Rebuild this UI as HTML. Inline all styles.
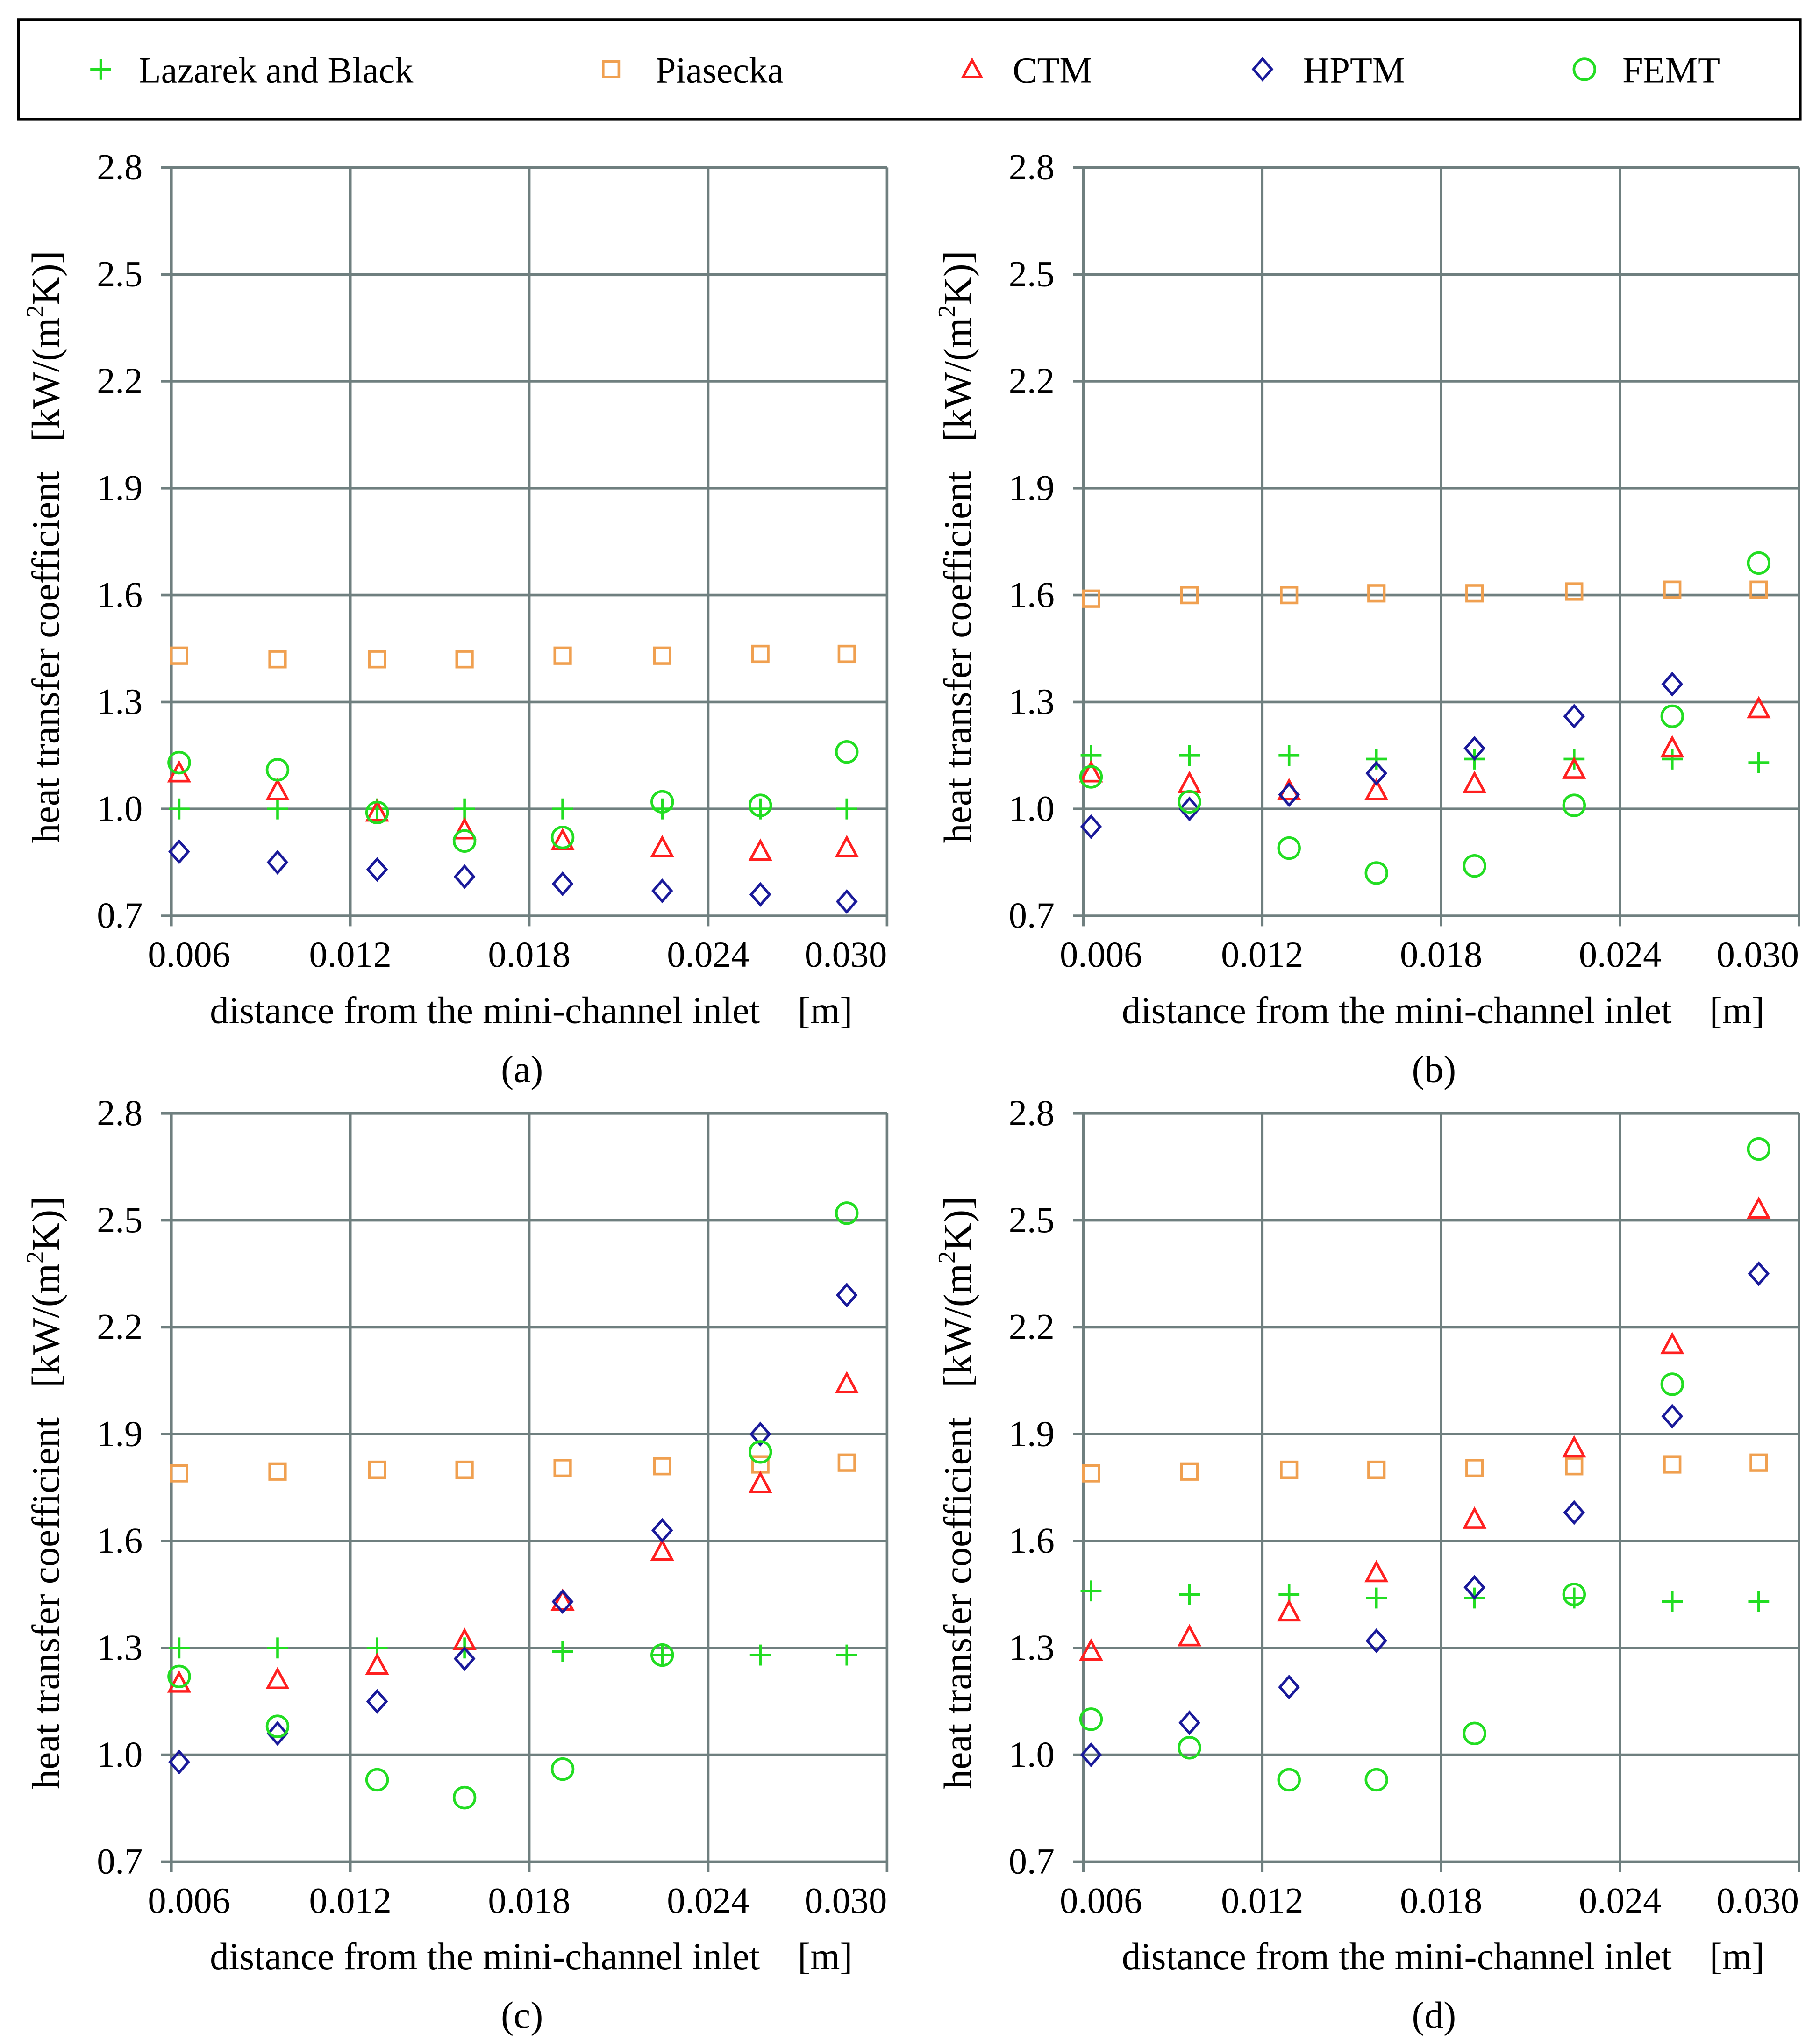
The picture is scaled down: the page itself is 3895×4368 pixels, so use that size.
<!DOCTYPE html>
<html><head><meta charset="utf-8"><style>
html,body{margin:0;padding:0;background:#fff;}
svg{display:block;}
text{font-family:"Liberation Serif",serif;fill:#000;}
.pre{white-space:pre;}
</style></head><body>
<svg id="chart" width="3895" height="4368" viewBox="0 0 1391.07 1560" xmlns="http://www.w3.org/2000/svg">
<rect width="1391.07" height="1560" fill="#fff"/>
<g>
<rect x="14" y="15" width="1362" height="76" fill="none" stroke="#000" stroke-width="2"/>
<g><path d="M69 53h16M77 45v16" stroke="#22dd22" stroke-width="2"/><text x="106" y="63" font-size="28">Lazarek and Black</text></g>
<g><rect x="461" y="47" width="12" height="12" fill="none" stroke="#f0a050" stroke-width="2"/><text x="501" y="63" font-size="28">Piasecka</text></g>
<g><path d="M743 46l7 13h-14z" fill="none" stroke="#ff2020" stroke-width="2"/><text x="774" y="63" font-size="28">CTM</text></g>
<g><path d="M965 45l7 8-7 8-7-8z" fill="none" stroke="#1a1a9a" stroke-width="2"/><text x="996" y="63" font-size="28">HPTM</text></g>
<g><circle cx="1211" cy="53" r="8" fill="none" stroke="#22dd22" stroke-width="2"/><text x="1240" y="63" font-size="28">FEMT</text></g>
</g>
<g id="panels"></g>
</svg>
<script>
const xPositions = [0.00626,0.00956,0.0129,0.01583,0.01912,0.02246,0.02575,0.02865];
const yTicks = [0.7,1.0,1.3,1.6,1.9,2.2,2.5,2.8];
const yTickLabels = ["0.7","1.0","1.3","1.6","1.9","2.2","2.5","2.8"];
const xTicks = [0.006,0.012,0.018,0.024,0.030];
const xTickLabels = ["0.006","0.012","0.018","0.024","0.030"];
const panelLabels = ["(a)","(b)","(c)","(d)"];
const lazarekA = [1.0,1.0,1.0,1.0,1.0,1.0,1.0,1.0];
const piaseckaA = [1.43,1.42,1.42,1.42,1.43,1.43,1.435,1.435];
const ctmA = [1.10,1.05,0.99,0.94,0.91,0.89,0.88,0.89];
const hptmA = [0.88,0.85,0.83,0.81,0.79,0.77,0.76,0.74];
const femtA = [1.13,1.11,0.99,0.91,0.92,1.02,1.01,1.16];
const lazarekB = [1.15,1.15,1.15,1.14,1.14,1.14,1.14,1.13];
const piaseckaB = [1.59,1.60,1.60,1.605,1.605,1.61,1.615,1.615];
const ctmB = [1.10,1.07,1.05,1.05,1.07,1.11,1.17,1.28];
const hptmB = [0.95,1.00,1.04,1.10,1.17,1.26,1.35];
const femtB = [1.09,1.02,0.89,0.82,0.84,1.01,1.26,1.69];
const lazarekC = [1.30,1.30,1.30,1.30,1.29,1.28,1.28,1.28];
const piaseckaC = [1.79,1.795,1.80,1.80,1.805,1.81,1.815,1.82];
const ctmC = [1.20,1.21,1.25,1.32,1.43,1.57,1.76,2.04];
const hptmC = [0.98,1.06,1.15,1.27,1.43,1.63,1.90,2.29];
const femtC = [1.22,1.08,0.93,0.88,0.96,1.28,1.85,2.52];
const lazarekD = [1.46,1.45,1.45,1.44,1.44,1.44,1.43,1.43];
const piaseckaD = [1.79,1.795,1.80,1.80,1.805,1.81,1.815,1.82];
const ctmD = [1.29,1.33,1.40,1.51,1.66,1.86,2.15,2.53];
const hptmD = [1.00,1.09,1.19,1.32,1.47,1.68,1.95,2.35];
const femtD = [1.10,1.02,0.93,0.93,1.06,1.45,2.04,2.70];

const NS="http://www.w3.org/2000/svg";
const root=document.getElementById('panels');
function mk(tag,attrs,parent){const e=document.createElementNS(NS,tag);for(const k in attrs)e.setAttribute(k,attrs[k]);parent.appendChild(e);return e;}
const panels=[
 {ox:0,oy:0,data:[lazarekA,piaseckaA,ctmA,hptmA,femtA]},
 {ox:697,oy:0,data:[lazarekB,piaseckaB,ctmB,hptmB,femtB]},
 {ox:0,oy:723,data:[lazarekC,piaseckaC,ctmC,hptmC,femtC]},
 {ox:697,oy:723,data:[lazarekD,piaseckaD,ctmD,hptmD,femtD]}];
const names=['lazarek','piasecka','ctm','hptm','femt'];
panels.forEach((p,pi)=>{
 const g=mk('g',{},root);
 
 
 const L=131+p.ox,R=678+p.ox,T=128+p.oy,B=700+p.oy;
 const xs=v=>L+(v-0.006)/0.024*(R-L);
 const ys=v=>T+(2.8-v)/2.1*(B-T);
 yTicks.forEach((t,i)=>{
  const ln=mk('line',{x1:L-8,x2:R,y1:ys(t),y2:ys(t),stroke:'#6f7f7f','stroke-width':2},g);
  
  
  const tx=mk('text',{x:L-22,y:ys(t)+9,'font-size':28,'text-anchor':'end'},g);
  
  
  tx.textContent=yTickLabels[i];
 });
 xTicks.forEach((t,i)=>{
  const ln=mk('line',{x1:xs(t),x2:xs(t),y1:T,y2:B+8,stroke:'#6f7f7f','stroke-width':2},g);
  
  
  const anchor=i==0?'start':(i==xTicks.length-1?'end':'middle');
  const tx=mk('text',{x:xs(t)+(i==0?-18:0),y:B+39,'font-size':28,'text-anchor':anchor},g);
  
  
  tx.textContent=xTickLabels[i];
 });
 const xt=mk('text',{x:L+275,y:B+82,'font-size':29,'text-anchor':'middle','class':'pre'},g);
 
 
 xt.textContent='distance from the mini-channel inlet    [m]';
 const pl=mk('text',{x:L+268,y:B+127,'font-size':29,'text-anchor':'middle'},g);
 
 
 pl.textContent=panelLabels[pi];
 const yt=mk('text',{x:0,y:0,'font-size':30,'text-anchor':'middle','class':'pre',transform:`translate(${L-86},${(T+B)/2+4}) rotate(-90)`},g);
 
 
 yt.innerHTML='heat transfer coefficient   [kW/(m<tspan dy="-12" font-size="19">2</tspan><tspan dy="12">K)]</tspan>';
 p.data.forEach((arr,si)=>{
  arr.forEach((v,i)=>{
   const x=xs(xPositions[i]),y=ys(v);let e;
   if(si==0) e=mk('path',{d:`M${x-8} ${y}h16M${x} ${y-8}v16`,stroke:'#22dd22','stroke-width':2,fill:'none'},g);
   else if(si==1) e=mk('rect',{x:x-6,y:y-6,width:12,height:12,stroke:'#f0a050','stroke-width':2,fill:'none'},g);
   else if(si==2) e=mk('path',{d:`M${x} ${y-8}l7.5 14h-15z`,stroke:'#ff2020','stroke-width':2,fill:'none'},g);
   else if(si==3) e=mk('path',{d:`M${x} ${y-8}l7 8-7 8-7-8z`,stroke:'#1a1a9a','stroke-width':2,fill:'none'},g);
   else e=mk('circle',{cx:x,cy:y,r:8,stroke:'#22dd22','stroke-width':2,fill:'none'},g);
   
   
  });
 });
});
</script>
</body></html>
